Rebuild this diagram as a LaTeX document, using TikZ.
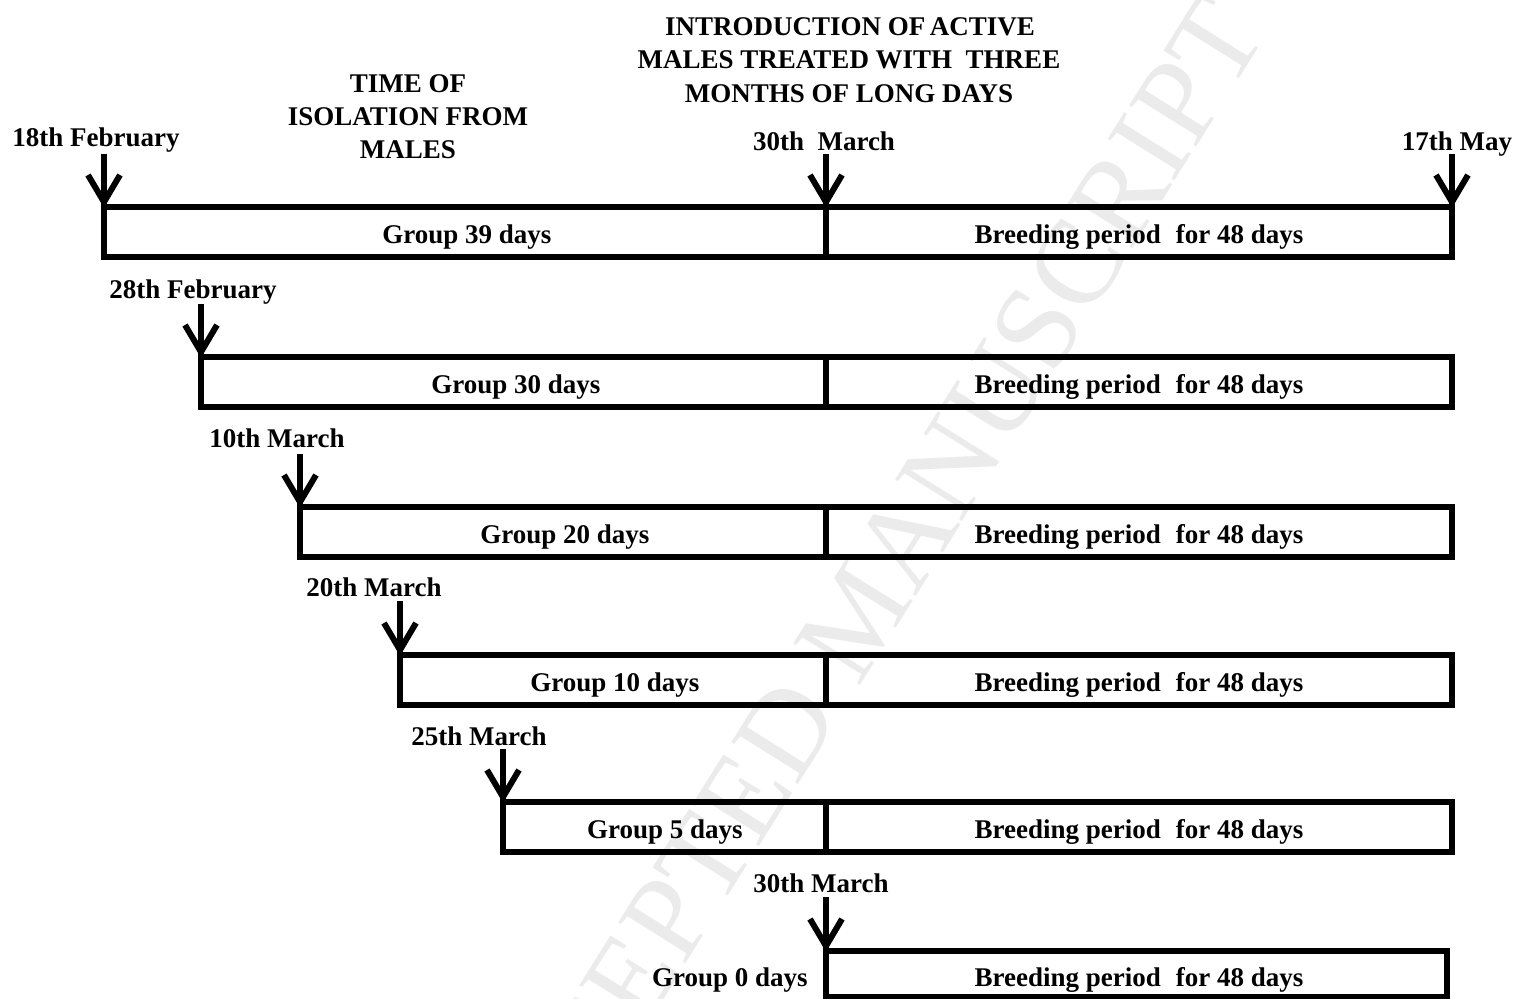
\documentclass[tikz,border=0pt]{standalone}
\usepackage{fontspec}
\setmainfont{Liberation Serif}
\usetikzlibrary{calc}
\newcommand{\mytimearrow}[2]{%
  \draw[arrowline] (#1) -- (#2);
  \draw[arrowline, line join=miter] ($(#2)+(-16,-32)$) -- ($(#2)+(0,-5)$) -- ($(#2)+(16,-32)$);
}
\begin{document}
\begin{tikzpicture}[x=1pt,y=-1pt,
  lbl/.style={font=\fontsize{27}{33}\selectfont\bfseries, inner sep=0pt, anchor=base},
  bar/.style={draw=black, line width=6pt, minimum height=50pt, inner sep=0pt, outer sep=0pt, anchor=north west},
  arrowline/.style={draw=black, line width=6pt},
  wmark/.style={font=\fontsize{120}{120}\selectfont, text=black!8, inner sep=0pt}]
\useasboundingbox[fill=white] (0,0) rectangle (1516,999);

% watermark
\node[wmark, rotate=58] (wm) at (858,615) {ACCEPTED MANUSCRIPT};

% headings
\node[lbl] (h1a) at (850,35) {INTRODUCTION OF\,ACTIVE};
\node[lbl] (h1b) at (849,68) {MALES TREATED WITH\ \ THREE};
\node[lbl] (h1c) at (849,102) {MONTHS OF LONG DAYS};
\node[lbl] (h2a) at (408,92) {TIME OF};
\node[lbl] (h2b) at (408,125) {ISOLATION FROM};
\node[lbl] (h2c) at (408,158) {MALES};

% bars
\node[bar, minimum width=722pt] (g1) at (104,207) {};
\node[bar, minimum width=626pt] (b1) at (826,207) {};
\node[bar, minimum width=625pt] (g2) at (201,357) {};
\node[bar, minimum width=626pt] (b2) at (826,357) {};
\node[bar, minimum width=526pt] (g3) at (300,507) {};
\node[bar, minimum width=626pt] (b3) at (826,507) {};
\node[bar, minimum width=426pt] (g4) at (400,655) {};
\node[bar, minimum width=626pt] (b4) at (826,655) {};
\node[bar, minimum width=323pt] (g5) at (503,802) {};
\node[bar, minimum width=626pt] (b5) at (826,802) {};
\node[bar, minimum width=621pt, minimum height=46pt] (b6) at (826,951) {};

% bar labels
\node[lbl] (lg1) at (467,243) {Group 39 days};
\node[lbl] (lg2) at (516,393) {Group 30 days};
\node[lbl] (lg3) at (565,543) {Group 20 days};
\node[lbl] (lg4) at (615,691) {Group 10 days};
\node[lbl] (lg5) at (665,838) {Group 5 days};
\node[lbl] (lg6) at (730,986) {Group 0 days};
\foreach \y/\n in {243/1,393/2,543/3,691/4,838/5,986/6}
  \node[lbl] (lb\n) at (1139,\y) {Breeding period\hspace{0.55em}for 48 days};

% date labels
\node[lbl] (d1) at (96,146) {18th February};
\node[lbl] (d2) at (824,150) {30th\ \ March};
\node[lbl] (d3) at (1457,150) {17th May};
\node[lbl] (d4) at (193,298) {28th February};
\node[lbl] (d5) at (277,447) {10th March};
\node[lbl] (d6) at (374,596) {20th March};
\node[lbl] (d7) at (479,745) {25th March};
\node[lbl] (d8) at (821,892) {30th March};

% arrow starts
\coordinate (a1) at (104,154);
\coordinate (a2) at (826,154);
\coordinate (a3) at (1452,154);
\coordinate (a4) at (201,304);
\coordinate (a5) at (300,454);
\coordinate (a6) at (400,601);
\coordinate (a7) at (503,749);
\coordinate (a8) at (826,897);

\mytimearrow{a1}{g1.north west}
\mytimearrow{a2}{b1.north west}
\mytimearrow{a3}{b1.north east}
\mytimearrow{a4}{g2.north west}
\mytimearrow{a5}{g3.north west}
\mytimearrow{a6}{g4.north west}
\mytimearrow{a7}{g5.north west}
\mytimearrow{a8}{b6.north west}
\end{tikzpicture}
\end{document}
